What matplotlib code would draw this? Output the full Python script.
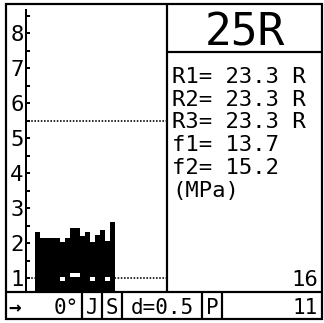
import matplotlib
matplotlib.use("Agg")
import matplotlib.pyplot as plt
from matplotlib.patches import Rectangle
import numpy as np

plt.rcParams['font.family'] = ['DejaVu Sans Mono', 'DejaVu Sans']

# rebound number of each impact (R), one bar per impact
readings = [23.1, 21.4, 21.4, 21.4, 21.4, 20.3, 21.4, 24.3,
            24.3, 22.0, 23.1, 20.3, 22.3, 23.7, 20.6, 26.0]
# blank cells inside the bars: impact index, lower edge (R), height (R)
gap_idx = [5, 7, 8, 11, 14]
gap_low = [9.1, 10.3, 10.3, 9.1, 9.1]
gap_h = [1.15, 1.15, 1.15, 1.15, 1.15]
# dotted limit lines (R)
limit_hi = 55
limit_lo = 10
y_labels = ['1', '2', '3', '4', '5', '6', '7', '8']

result = '25R'
info_lines = ['R1= 23.3 R', 'R2= 23.3 R', 'R3= 23.3 R',
              'f1= 13.7', 'f2= 15.2', '(MPa)']
n_impacts = '16'
status = ['\u2192', '0\u00b0', 'J', 'S', 'd=0.5', 'P', '11']

W, H = 324, 323
fig = plt.figure(figsize=(W / 100, H / 100), dpi=100)
px = 0.72  # points per pixel


def fx(x):
    return x / W


def fy(y):
    return 1 - y / H


# bar chart on the left
y_bot, y_top = 291, 5
ax = fig.add_axes([fx(26), fy(y_bot), fx(167) - fx(26), fy(y_top) - fy(y_bot)])
ax.patch.set_alpha(0)
r_per_px = 10 / 35
ax.set_ylim(10 - (y_bot - 278) * r_per_px, 10 + (278 - y_top) * r_per_px)
ax.set_xlim(-1.8, -1.8 + 141 / 5)

x = np.arange(len(readings))
ax.bar(x, readings, width=1.0, align='edge', color='black', linewidth=0, zorder=3)
ax.bar(np.array(gap_idx), gap_h, bottom=gap_low, width=1.0, align='edge',
       color='white', linewidth=0, zorder=4)

ax.axhline(limit_hi, xmin=0.015, color='black', lw=1.6 * px,
           linestyle=(0, (1, 1)), zorder=2)
ax.axhline(limit_lo, xmin=0.015, color='black', lw=1.6 * px,
           linestyle=(0, (1, 1)), zorder=2)

for s in ['top', 'right', 'bottom']:
    ax.spines[s].set_visible(False)
ax.spines['left'].set_linewidth(2 * px)
ax.spines['left'].set_bounds(ax.get_ylim()[0], 10 + (278 - 10) * r_per_px)
ax.set_xticks([])
ax.set_yticks(np.arange(10, 90, 10))
ax.set_yticklabels(y_labels)
ax.set_yticks(np.arange(15, 90, 10), minor=True)
ax.tick_params(axis='y', which='both', direction='in', length=4 * px,
               width=2 * px, pad=2.5 * px, labelsize=16)

# frame, dividers and readout texts
fr = fig.add_axes([0, 0, 1, 1])
fr.set_xlim(0, W)
fr.set_ylim(H, 0)
fr.axis('off')
fr.patch.set_alpha(0)

lw = 2.2 * px
fr.add_patch(Rectangle((6, 4), 316, 315, fill=False, edgecolor='black', lw=lw))
fr.vlines(167, 4, 292, color='black', lw=lw)
fr.hlines(292, 6, 322, color='black', lw=lw)
fr.hlines(52, 167, 322, color='black', lw=lw)
fr.vlines([82, 102, 122, 202, 222], 292, 319, color='black', lw=lw)

fr.text(245, 45, result, ha='center', va='baseline', fontsize=32)
for i, line in enumerate(info_lines):
    fr.text(172, 83 + i * 22.7, line, ha='left', va='baseline', fontsize=16)
fr.text(318, 286, n_impacts, ha='right', va='baseline', fontsize=16)

fs = 15
fr.text(8, 314, status[0], ha='left', va='baseline', fontsize=fs,
        fontweight='bold')
fr.text(79, 314, status[1], ha='right', va='baseline', fontsize=fs)
fr.text(92, 314, status[2], ha='center', va='baseline', fontsize=fs)
fr.text(112, 314, status[3], ha='center', va='baseline', fontsize=fs)
fr.text(162, 314, status[4], ha='center', va='baseline', fontsize=fs)
fr.text(212, 314, status[5], ha='center', va='baseline', fontsize=fs)
fr.text(318, 314, status[6], ha='right', va='baseline', fontsize=fs)

fig.savefig('out.png', dpi=100)
